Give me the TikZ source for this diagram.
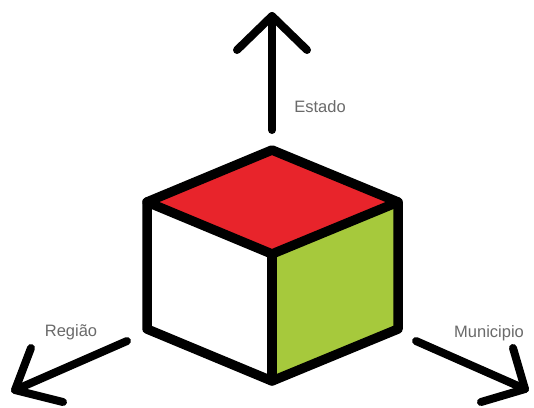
\documentclass[tikz,border=0pt]{standalone}
\usepackage{fontspec}
\setmainfont{Liberation Sans}
\definecolor{topred}{HTML}{E8242B}
\definecolor{sidegreen}{HTML}{A6C93C}
\definecolor{labelgray}{HTML}{6A6A6A}
\begin{document}
\begin{tikzpicture}[x=1pt,y=-1pt,
  edge/.style={line width=9.5pt,line join=round,line cap=round,black},
  axis/.style={line width=8pt,line join=round,line cap=round,black},
  lbl/.style={text=labelgray,font=\fontsize{16.5}{18}\selectfont,inner sep=0pt}]
\useasboundingbox[fill=white] (0,0) rectangle (534,407);
% cube vertices
\coordinate (T) at (272,150);
\coordinate (L) at (147,202);
\coordinate (R) at (398,202);
\coordinate (C) at (272,254);
\coordinate (LB) at (147,329);
\coordinate (RB) at (398,329);
\coordinate (B) at (272,381);
% faces
\fill[topred] (T) -- (L) -- (C) -- (R) -- cycle;
\fill[sidegreen] (C) -- (R) -- (RB) -- (B) -- cycle;
\fill[white] (L) -- (C) -- (B) -- (LB) -- cycle;
% edges
\draw[edge] (T) -- (R) -- (RB) -- (B) -- (LB) -- (L) -- cycle;
\draw[edge] (L) -- (C) -- (R);
\draw[edge] (C) -- (B);
% up axis (Estado)
\coordinate (us) at (272,130);
\coordinate (ut) at (272,16);
\coordinate (ua) at (237,50);
\coordinate (ub) at (307,50);
\draw[axis] (us) -- (ut);
\draw[axis] (ua) -- (ut) -- (ub);
\node[lbl] (estado) at (320,107) {Estado};
% left axis (Região)
\coordinate (ls) at (127,341);
\coordinate (lt) at (15,390);
\coordinate (la) at (31,348);
\coordinate (lb) at (63,402);
\draw[axis] (ls) -- (lt);
\draw[axis] (la) -- (lt) -- (lb);
\node[lbl] (regiao) at (71,332) {Região};
% right axis (Municipio)
\coordinate (rs) at (416,341);
\coordinate (rt) at (525,389);
\coordinate (ra) at (513,348);
\coordinate (rb) at (481,402);
\draw[axis] (rs) -- (rt);
\draw[axis] (ra) -- (rt) -- (rb);
\node[lbl] (municipio) at (489,333) {Municipio};
\end{tikzpicture}
\end{document}
